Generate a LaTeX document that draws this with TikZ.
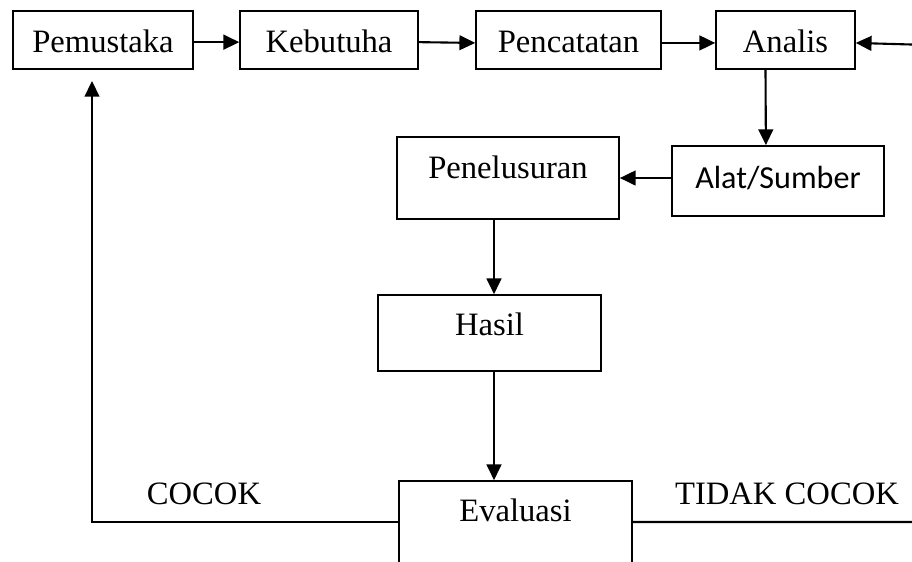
\documentclass[tikz,border=0pt]{standalone}
\usepackage{fontspec}
\setmainfont{Liberation Serif}
\newfontfamily\carlito{Carlito}
\usetikzlibrary{arrows.meta}

\begin{document}
\begin{tikzpicture}[x=0.38pt, y=-0.38pt,
    kotak/.style n args={3}{draw, line width=0.6pt, inner sep=0pt, anchor=base,
      minimum width=#1, text height=#2, text depth=#3, font=\fontsize{12.4}{14}\selectfont},
    panah/.style={-{Triangle[length=6pt, width=5.6pt]}, line width=0.8pt},
    garis/.style={line width=0.8pt}]
  \clip (0,0) rectangle (912,561);

  % baris atas
  \node[kotak={68.4pt}{15.6pt}{6.5pt}] (pemustaka) at (103,52) {Pemustaka};
  \node[kotak={67.6pt}{15.6pt}{6.5pt}] (kebutuhan) at (329,52) {Kebutuha};
  \node[kotak={70.3pt}{15.6pt}{6.5pt}] (pencatatan) at (568.5,52) {Pencatatan};
  \node[kotak={52.8pt}{15.6pt}{6.5pt}] (analis) at (785.5,52) {Analis};

  % tengah
  \node[kotak={80.6pt}{16pt}{10.6pt}, font=\carlito\fontsize{12.2}{14}\selectfont] (alat) at (778,188) {Alat/Sumber};
  \node[kotak={84.4pt}{15.6pt}{15.6pt}] (penelusuran) at (508,178) {Penelusuran};
  \node[kotak={84.7pt}{15.2pt}{13.7pt}] (hasil) at (489.5,335) {Hasil};
  \node[kotak={88.5pt}{15.2pt}{37.6pt}] (evaluasi) at (515.5,521) {Evaluasi};

  \node[anchor=base, font=\fontsize{12.4}{14}\selectfont] (cocok) at (204,504) {COCOK};
  \node[anchor=base, font=\fontsize{12.4}{14}\selectfont] (tidak) at (787,504) {TIDAK COCOK};

  \coordinate (kiri) at (92,522);
  \coordinate (kanan) at (930,522);
  \coordinate (tengah) at (494,0);

  \draw[panah] ([yshift=-0.8pt]pemustaka.east) -- ([yshift=-0.8pt]kebutuhan.west);
  \draw[panah] ([yshift=-0.8pt]kebutuhan.east) -- ([yshift=-1.1pt]pencatatan.west);
  \draw[panah] ([yshift=-1.1pt]pencatatan.east) -- ([yshift=-1.1pt]analis.west);
  \draw[panah] ([xshift=-7.6pt]analis.south) -- ([xshift=-4.6pt]alat.north);
  \draw[panah] (alat.west |- penelusuran) -- (penelusuran.east);
  \draw[panah] (penelusuran.south -| tengah) -- (hasil.north -| tengah);
  \draw[panah] (hasil.south -| tengah) -- (evaluasi.north -| tengah);

  % umpan balik
  \draw[panah, shorten >=4.2pt] (evaluasi.west |- kiri) -- (kiri) -- (kiri |- pemustaka.south);
  \draw[panah] (evaluasi.east |- kanan) -- (kanan) -- ([yshift=-1.9pt]kanan |- analis) -- ([yshift=-1.1pt]analis.east);
\end{tikzpicture}
\end{document}
